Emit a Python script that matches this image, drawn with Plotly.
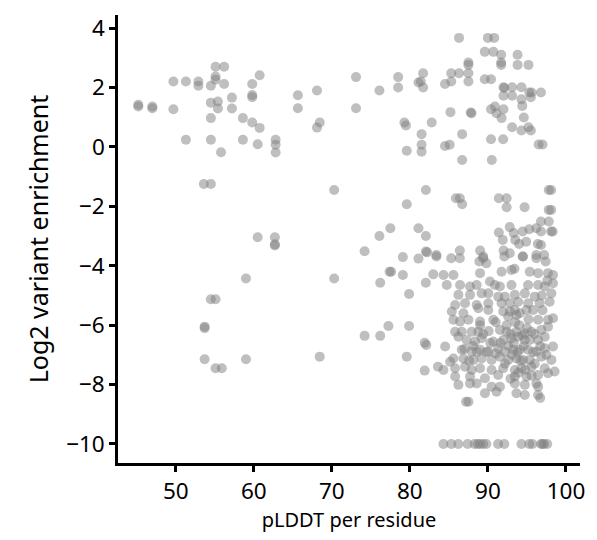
import plotly.graph_objects as go

# Points (pLDDT, log2 enrichment)
left_x = [45.2, 45.2, 47.0, 47.0, 49.7, 49.7, 51.3, 51.3, 52.9, 52.9, 54.5, 55.1, 56.2, 55.1, 55.1, 56.2,
          54.5, 55.4, 55.4, 57.2, 57.2, 54.5, 58.6, 59.8, 60.75, 59.8, 59.8, 59.8, 60.75, 54.5, 55.8, 58.6,
          60.5, 62.8, 62.8, 62.8, 53.6, 54.5, 60.5, 62.7, 62.7, 62.7, 59.0, 54.5, 55.1, 53.7, 53.7, 53.7,
          55.1, 55.9, 59.0]
left_y = [1.36, 1.42, 1.30, 1.36, 1.27, 2.20, 2.20, 0.24, 2.20, 2.06, 2.06, 2.70, 2.70, 2.37, 2.26, 2.12,
          1.49, 1.53, 1.29, 1.66, 1.29, 0.97, 0.97, 2.12, 2.41, 1.75, 1.67, 0.82, 0.64, 0.24, -0.18, 0.24,
          0.09, 0.24, 0.07, -0.19, -1.25, -1.25, -3.04, -3.04, -3.32, -3.28, -4.43, -5.13, -5.13, -6.10, -6.05, -7.15,
          -7.45, -7.45, -7.15]

mid_x = [65.65, 65.65, 68.1, 68.45, 68.1, 73.1, 73.1, 76.1, 78.5, 78.5, 79.3, 79.5, 81.1, 81.4, 81.7, 81.7,
         81.5, 81.5, 81.5, 79.6, 70.3, 70.3, 74.2, 76.1, 77.5, 79.6, 82.05, 81.1, 82.05, 82.05, 82.2, 79.1,
         81.1, 77.4, 77.6, 79.1, 76.2, 82.05, 79.9, 68.45, 74.2, 76.2, 77.25, 79.9, 79.6, 81.9, 82.1, 81.9,
         83.6, 83.0]
mid_y = [1.74, 1.30, 1.90, 0.82, 0.65, 2.35, 1.30, 1.90, 2.35, 2.00, 0.82, 0.72, 2.17, 2.20, 2.48, 2.00,
         0.43, 0.07, -0.16, -0.13, -1.45, -4.43, -3.51, -3.00, -2.74, -1.93, -1.45, -2.74, -3.00, -3.52, -3.55, -3.71,
         -3.76, -4.20, -4.20, -4.31, -4.57, -4.57, -4.95, -7.06, -6.36, -6.36, -6.03, -6.03, -7.06, -6.59, -6.67, -7.53,
         -7.40, -4.29]

upper_x = [86.3, 90.0, 90.8, 89.6, 90.7, 91.7, 93.8, 91.7, 91.7, 93.8, 95.2, 87.5, 87.5, 87.5, 87.5, 86.3,
           85.3, 85.3, 84.5, 89.6, 90.4, 92.0, 92.1, 93.1, 94.3, 95.3, 95.6, 96.8, 92.0, 93.1, 94.3, 95.5,
           94.4, 90.9, 90.4, 92.0, 91.1, 91.75, 94.6, 85.2, 87.8, 87.9, 82.8, 86.7, 93.1, 94.3, 95.2, 95.5,
           90.4, 91.95, 84.5, 85.1, 96.5, 97.0, 86.7, 90.5]
upper_y = [3.67, 3.67, 3.67, 3.20, 3.20, 3.10, 3.10, 2.84, 2.76, 2.76, 2.76, 2.84, 2.76, 2.48, 2.20, 2.48,
           2.48, 2.20, 2.12, 2.28, 2.28, 2.01, 1.98, 2.01, 2.01, 1.83, 1.83, 1.83, 1.72, 1.72, 1.60, 1.67,
           1.38, 1.36, 1.27, 1.27, 1.13, 0.97, 0.99, 1.17, 1.16, 1.13, 0.82, 0.43, 0.66, 0.55, 0.66, 0.55,
           0.26, 0.26, 0.03, 0.07, 0.08, 0.08, -0.44, -0.44]

band_x = [85.9, 86.4, 86.7, 91.4, 92.4, 92.4, 94.7, 97.8, 98.1, 97.8, 98.1, 96.8, 97.8, 98.3, 98.1, 96.8,
          91.4, 91.9, 92.8, 93.3, 94.45, 95.3, 96.2, 93.5, 94.0, 94.9, 96.4, 96.8, 83.4, 86.4, 89.0, 92.0,
          92.8, 94.5, 96.2, 97.2, 85.3, 86.4, 89.4, 83.4, 88.9, 89.8, 89.4, 92.1, 94.45, 96.2, 97.4, 93.4]
band_y = [-1.73, -1.73, -1.93, -1.73, -1.73, -2.03, -2.03, -1.45, -1.45, -2.12, -2.12, -2.51, -2.51, -2.85, -2.85, -2.85,
          -2.88, -3.13, -2.70, -2.90, -2.85, -2.77, -2.74, -3.13, -3.27, -3.19, -3.27, -3.30, -3.64, -3.49, -3.49, -3.49,
          -3.58, -3.69, -3.64, -3.64, -3.75, -3.75, -3.75, -3.69, -3.86, -3.92, -3.69, -3.69, -3.69, -3.75, -3.86, -4.10]

dense_x = [84.31, 85.58, 88.99, 91.75, 93.02, 95.36, 96.43, 97.70, 98.34,
           84.73, 86.43, 87.71, 88.56, 90.26, 90.90, 91.54, 93.02, 95.15, 96.43, 97.28, 98.34,
           86.22, 87.71, 89.20, 90.05, 91.32, 92.17, 93.45, 94.73, 96.00, 98.13,
           85.80, 87.07, 88.56, 90.05, 91.75, 92.81, 93.87, 95.15, 96.64, 97.91,
           85.37, 86.86, 88.77, 90.05, 91.96, 92.81, 93.45, 94.94, 95.79,
           85.58, 86.43, 87.50, 88.99, 90.69, 92.60, 93.66, 96.43, 97.70, 98.34,
           85.80, 86.65, 87.92, 88.77, 91.54, 92.39, 93.66, 94.73, 95.58, 96.85, 97.70,
           84.52, 86.22, 87.28, 88.35, 89.20, 90.69, 91.96, 93.02, 93.87, 94.73, 96.43, 97.28, 98.34,
           85.58, 86.65, 87.92, 88.99, 90.05, 91.32, 92.17, 93.24, 94.09, 95.15, 96.21, 97.28,
           85.16, 86.86, 88.14, 89.20, 90.47, 91.54, 92.60, 93.66, 94.51, 95.36, 96.85, 98.13,
           84.31, 85.80, 87.07, 87.92, 88.99, 90.47, 91.96, 93.45, 94.30, 95.58, 97.28, 98.55,
           85.80, 87.71, 89.62, 91.32, 93.45, 94.94, 96.43, 97.70,
           86.22, 87.71, 88.56, 90.47, 91.54, 93.45, 94.73, 96.21, 96.43,
           89.62, 91.11, 93.66, 94.73, 96.43, 87.2, 87.5, 96.7]
dense_y = [-4.31, -4.31, -4.25, -4.20, -4.14, -4.20, -4.25, -4.25, -4.31,
           -4.65, -4.65, -4.70, -4.65, -4.53, -4.65, -4.70, -4.65, -4.65, -4.65, -4.70, -4.59,
           -4.98, -4.98, -4.93, -4.93, -5.04, -5.04, -4.98, -4.93, -5.04, -4.93,
           -5.32, -5.26, -5.32, -5.26, -5.26, -5.26, -5.21, -5.26, -5.26, -5.21,
           -5.54, -5.60, -5.43, -5.49, -5.54, -5.54, -5.49, -5.49, -5.49,
           -5.82, -5.88, -5.82, -5.88, -5.82, -5.71, -5.66, -5.82, -5.82, -5.77,
           -6.22, -6.22, -6.22, -6.22, -6.16, -6.22, -6.22, -6.27, -6.22, -6.16, -6.05,
           -6.72, -6.39, -6.50, -6.55, -6.44, -6.55, -6.50, -6.44, -6.39, -6.50, -6.50, -6.39, -6.72,
           -7.12, -6.83, -6.89, -6.83, -6.89, -6.78, -6.89, -6.83, -6.83, -6.83, -6.89, -6.78,
           -7.23, -7.12, -7.17, -7.12, -7.17, -7.06, -7.17, -7.12, -7.17, -7.17, -7.06, -7.17,
           -7.51, -7.45, -7.40, -7.51, -7.45, -7.51, -7.45, -7.51, -7.45, -7.40, -7.45, -7.56,
           -7.73, -7.73, -7.79, -7.68, -7.73, -7.73, -7.68, -7.62,
           -8.01, -7.96, -7.96, -8.07, -8.07, -7.96, -8.01, -7.96, -8.07,
           -8.29, -8.24, -8.29, -8.35, -8.35, -8.58, -8.58, -8.45]

core_x = [92.4, 92.9, 93.3, 93.8, 94.2, 94.6, 95.0, 95.4, 93.1, 92.6, 94.0, 94.4, 95.8, 96.0, 93.5, 92.2,
          91.6, 91.0, 90.3, 89.8, 89.4, 88.6, 88.1, 87.6, 87.0, 94.8, 95.6, 93.9, 92.9, 94.1, 95.2, 96.0,
          96.7, 97.5, 97.0, 97.6, 96.9, 91.0, 90.1, 89.0]
core_y = [-6.0, -6.3, -6.6, -6.9, -7.2, -6.7, -6.1, -6.5, -7.0, -6.7, -6.0, -6.35, -6.9, -7.3, -5.9, -7.3,
          -6.6, -6.95, -6.6, -6.9, -6.3, -6.9, -6.7, -7.2, -6.8, -7.5, -7.7, -7.6, -7.8, -5.6, -5.8, -6.3,
          -6.7, -7.0, -5.5, -4.5, -5.0, -5.9, -6.2, -6.0]

floor_x = [84.3, 85.3, 86.2, 87.4, 88.3, 88.7, 89.0, 89.4, 89.8, 91.3, 92.1, 94.3, 95.3, 95.7, 96.8, 97.0, 97.2, 97.6]
floor_y = [-10.0] * len(floor_x)

xs = left_x + mid_x + upper_x + band_x + dense_x + core_x + floor_x
ys = left_y + mid_y + upper_y + band_y + dense_y + core_y + floor_y

x_ticks = [50, 60, 70, 80, 90, 100]
y_ticks = [4, 2, 0, -2, -4, -6, -8, -10]

fig = go.Figure(go.Scatter(
    x=xs, y=ys, mode="markers",
    marker=dict(size=10, color="rgba(128,128,128,0.5)", line=dict(width=0)),
    hoverinfo="skip",
))

font = "Noto Sans"
fig.update_layout(
    width=597, height=540,
    margin=dict(l=118, r=15, t=15, b=77),
    plot_bgcolor="white", paper_bgcolor="white",
    showlegend=False,
    font=dict(family=font, size=20, color="black"),
)
fig.update_xaxes(
    range=[42.6, 101.8], tickvals=x_ticks, showgrid=False, zeroline=False,
    showline=True, linecolor="black", linewidth=2.5,
    ticks="outside", ticklen=6, tickwidth=2.5, tickcolor="black",
    tickfont=dict(size=22.5),
    title=dict(text="pLDDT per residue", font=dict(size=20), standoff=0),
)
fig.update_yaxes(
    range=[-10.64, 4.44], tickvals=y_ticks, showgrid=False, zeroline=False,
    showline=True, linecolor="black", linewidth=2.5,
    ticks="outside", ticklen=6, tickwidth=2.5, tickcolor="black",
    tickfont=dict(size=22.5),
    title=dict(text="Log2 variant enrichment", font=dict(size=25), standoff=11),
)

fig.write_html("out.html")
